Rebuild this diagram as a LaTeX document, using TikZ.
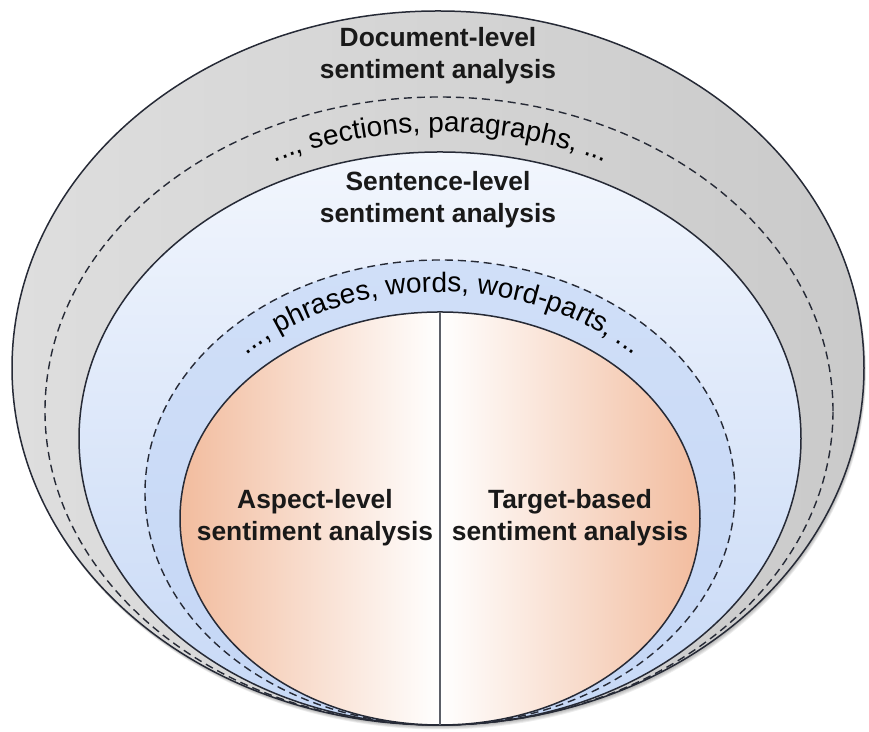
\documentclass[tikz,border=0pt]{standalone}
\usepackage{fontspec}
\setmainfont{Liberation Sans}
\usetikzlibrary{decorations.text}
\definecolor{lvedge}{RGB}{38,42,54}
\definecolor{lvdocl}{RGB}{222,222,222}
\definecolor{lvdocm}{RGB}{237,237,237}
\definecolor{lvdocr}{RGB}{202,202,202}
\definecolor{lvsentt}{RGB}{242,246,253}
\definecolor{lvsentb}{RGB}{198,216,246}
\definecolor{lvwordt}{RGB}{208,223,248}
\definecolor{lvwordb}{RGB}{196,214,245}
\definecolor{lvcore}{RGB}{242,188,158}
\newcommand{\lvunitfont}{\fontsize{14}{16}\selectfont}
\tikzset{
  ring/.style={draw=lvedge, line width=0.75pt},
  sepline/.style={draw=lvedge, line width=0.7pt, dash pattern=on 4pt off 2.5pt},
  lvl/.style={font=\fontsize{13.2}{16}\selectfont\bfseries, align=center, text=black!90},
  unitpath/.style={decorate, decoration={text along path, text align=center, text={#1}}}
}

\begin{document}
\begin{tikzpicture}[x=0.5pt,y=0.5pt]
  \useasboundingbox (0,0) rectangle (869,732);
  \coordinate (base) at (440,7);
  \coordinate (coretop) at (440,420);
  % soft shadow under the outer level
  \foreach \s in {1,...,5}
    \fill[black, opacity=0.07] (438+0.4*\s,364-0.9*\s) ellipse [x radius=426, y radius=357];
  % document level
  \shade[left color=lvdocl, middle color=lvdocm, right color=lvdocr]
    (438,364) ellipse [x radius=426, y radius=357];
  \draw[ring] (438,364) ellipse [x radius=426, y radius=357];
  \draw[sepline] (439,321) ellipse [x radius=394, y radius=314];
  % sentence level
  \shade[top color=lvsentt, bottom color=lvsentb]
    (440,293.5) ellipse [x radius=361, y radius=286.5];
  \draw[ring] (440,293.5) ellipse [x radius=361, y radius=286.5];
  \shade[top color=lvwordt, bottom color=lvwordb]
    (440,239.5) ellipse [x radius=295, y radius=232.5];
  \draw[sepline] (440,239.5) ellipse [x radius=295, y radius=232.5];
  % aspect / target core
  \begin{scope}
    \clip (440,213.5) ellipse [x radius=260, y radius=206.5];
    \shade[left color=lvcore, right color=white] (180,0) rectangle (440,420);
    \shade[left color=white, right color=lvcore] (440,0) rectangle (700,420);
  \end{scope}
  \draw[ring] (440,213.5) ellipse [x radius=260, y radius=206.5];
  \draw[draw=lvedge!75, line width=0.6pt] (coretop) -- (base);

  \node[lvl] (doclvl) at (438,676) {Document-level\\sentiment analysis};
  \node[lvl] (sentlvl) at (438,532) {Sentence-level\\sentiment analysis};
  \node[lvl] (aspectlvl) at (315,214) {Aspect-level\\sentiment analysis};
  \node[lvl] (targetlvl) at (570,214) {Target-based\\sentiment analysis};

  % units between the levels, set along arcs
  \path[unitpath={|\lvunitfont|..., sections, paragraphs, ...}]
    (63,300) arc [start angle=180, end angle=0, x radius=377, y radius=300];
  \path[unitpath={|\lvunitfont|..., phrases, words, word-parts, ...}]
    (168,227) arc [start angle=180, end angle=0, x radius=272, y radius=213];
\end{tikzpicture}
\end{document}
